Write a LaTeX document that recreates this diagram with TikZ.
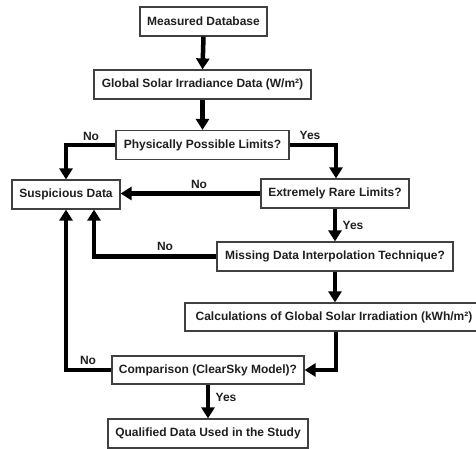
\documentclass[tikz,border=0pt]{standalone}
\usepackage{fontspec}
\setmainfont{Liberation Sans}
\usetikzlibrary{arrows.meta}
\begin{document}
\begin{tikzpicture}[x=1pt,y=-1pt,
  box/.style={draw=black!75,line width=1.2pt,minimum height=29pt,inner xsep=4pt,font=\fontsize{12}{14}\selectfont\bfseries,text=black!88},
  flow/.style={line width=4.5pt,-{Triangle[width=13pt,length=11pt]}},
  lbl/.style={font=\fontsize{12}{14}\selectfont\bfseries,text=black!88,inner sep=0pt}]
\useasboundingbox (0,0) rectangle (476,449);
\node[box,minimum width=127pt] (md) at (203.5,21.5) {Measured Database};
\node[box,minimum width=217pt] (gs) at (202.5,84.5) {Global Solar Irradiance Data (W/m²)};
\node[box,minimum width=173pt] (pp) at (202.5,145) {Physically Possible Limits?};
\node[box,minimum width=108pt] (sd) at (66,194.5) {Suspicious Data};
\node[box,minimum width=148pt] (er) at (335,193.5) {Extremely Rare Limits?};
\node[box,minimum width=236pt] (mi) at (335,256.5) {Missing Data Interpolation Technique?};
\node[box,minimum width=292pt,minimum height=28pt] (ca) at (331,317) {\hspace*{6pt}Calculations of Global Solar Irradiation (kWh/m²)};
\node[box,minimum width=192pt,minimum height=28pt] (co) at (208,370) {Comparison (ClearSky Model)?};
\node[box,minimum width=200pt] (qd) at (208,433.5) {Qualified Data Used in the Study};
\coordinate (c1) at (66,145);
\coordinate (c2) at (336,145);
\coordinate (c3) at (94,256.5);
\coordinate (c4) at (336,370);
\coordinate (c5) at (66,370);
\draw[flow] (md.south) -- (gs.north);
\draw[flow] (gs.south) -- (pp.north);
\draw[flow] (pp.west) -- (c1) -- (sd.north);
\draw[flow] (pp.east) -- (c2) -- (c2 |- er.north);
\draw[flow] (er.west) -- (sd.east |- er.west);
\draw[flow] (er.south) -- (mi.north);
\draw[flow] (mi.west) -- (c3) -- (c3 |- sd.south);
\draw[flow] (mi.south) -- (mi.south |- ca.north);
\draw[flow] (c4 |- ca.south) -- (c4) -- (co.east);
\draw[flow] (co.west) -- (c5) -- (sd.south -| c5);
\draw[flow] (co.south) -- (qd.north);
\node[lbl] (l1) at (91,136) {No};
\node[lbl] (l2) at (310,135) {Yes};
\node[lbl] (l3) at (199,184) {No};
\node[lbl] (l4) at (353,225) {Yes};
\node[lbl] (l5) at (165,246) {No};
\node[lbl] (l6) at (88,360) {No};
\node[lbl] (l7) at (226,397) {Yes};
\end{tikzpicture}
\end{document}
